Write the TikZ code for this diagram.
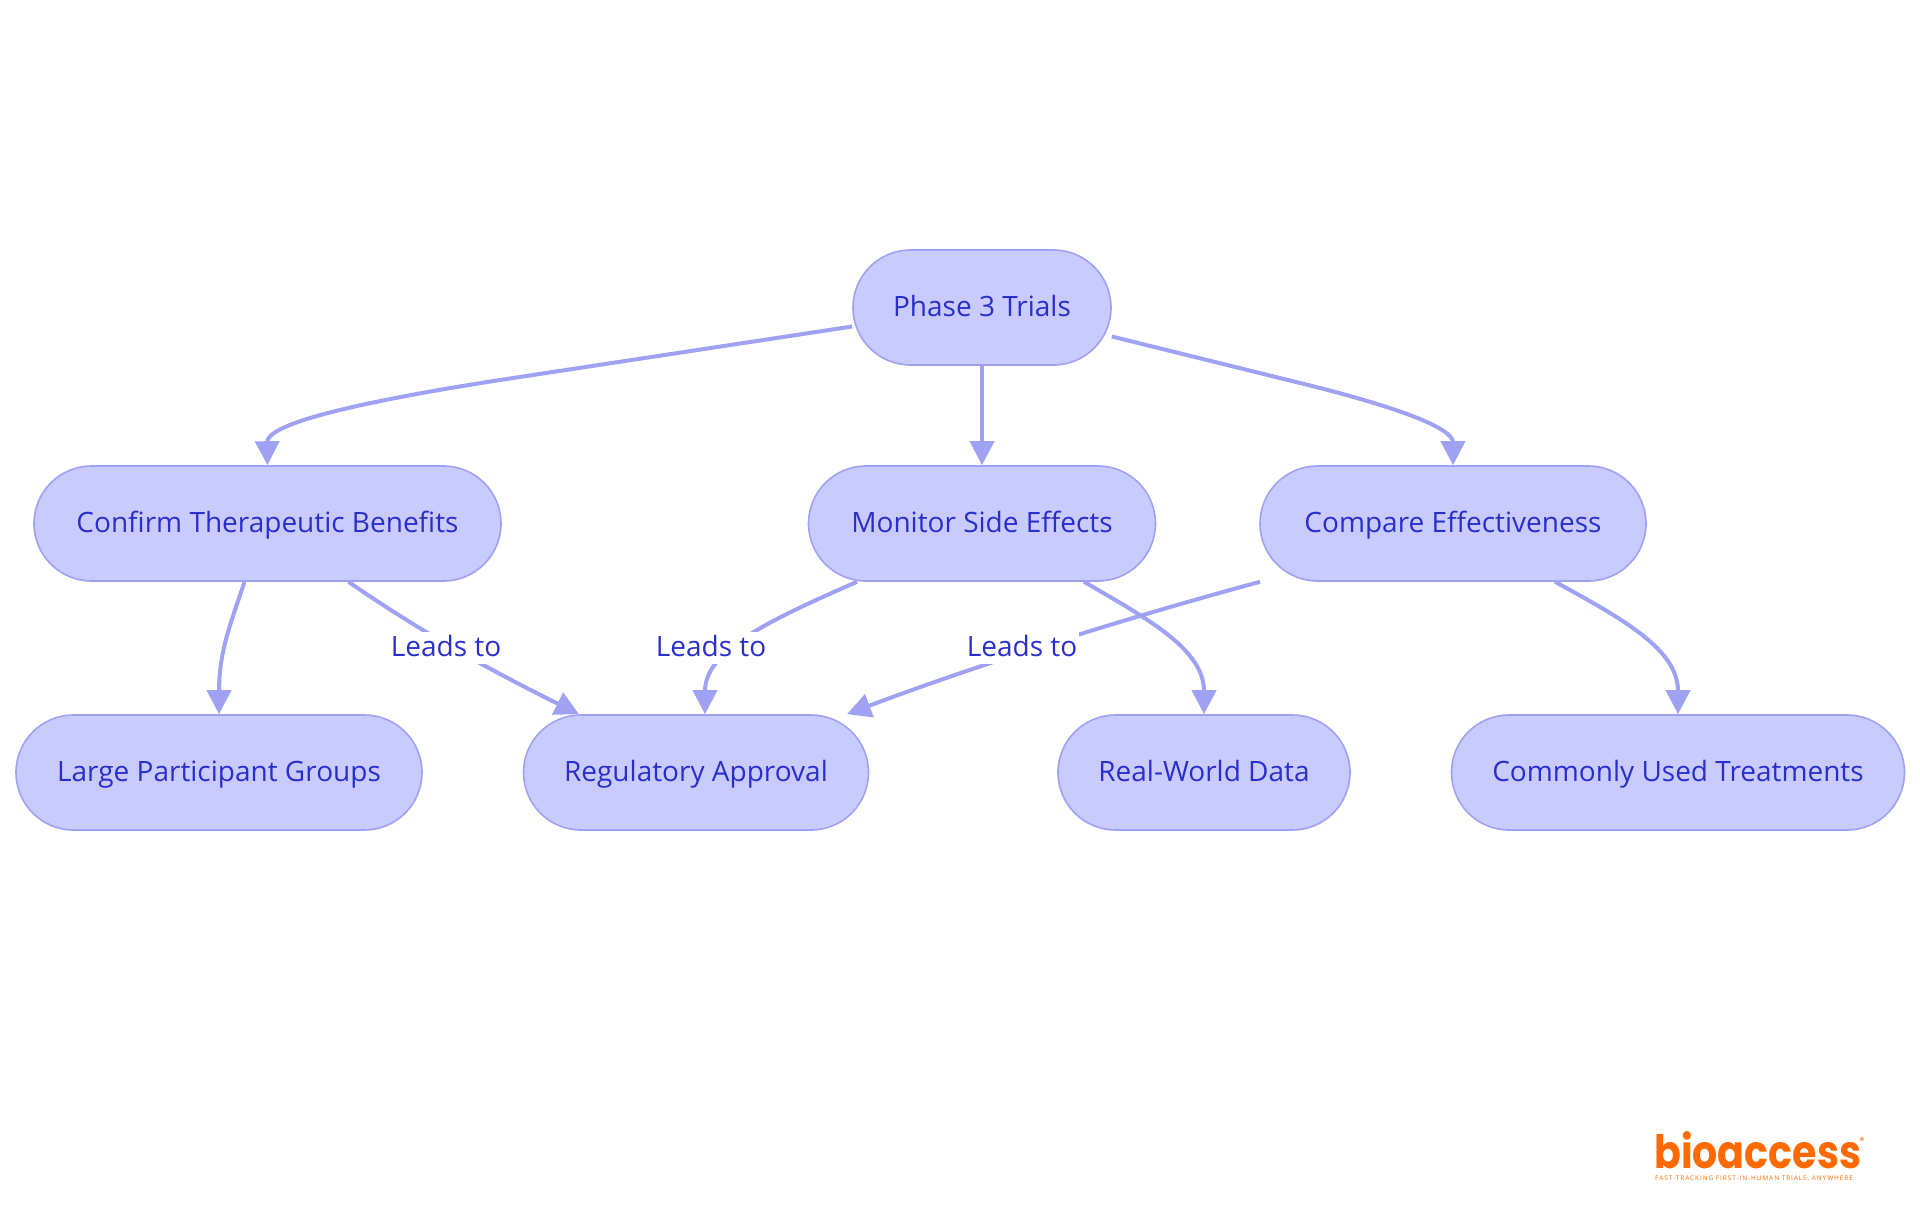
\documentclass[tikz,border=0pt]{standalone}
\usepackage{fontspec}
\setmainfont{Open Sans}
\newfontfamily\logofont{Poppins}
\newfontfamily\tagfont[LetterSpace=14]{Open Sans}
\usetikzlibrary{arrows.meta,calc}
\definecolor{edgeblue}{HTML}{9FA2F3}
\definecolor{fillblue}{HTML}{C9CBFF}
\definecolor{textblue}{HTML}{2A2FCB}
\definecolor{logoorange}{HTML}{FF6A00}
\newcommand{\lbl}[1]{\raisebox{0pt}[17pt][0pt]{#1}}
\tikzset{
  pill/.style={rectangle,rounded corners=57.5pt,draw=edgeblue,line width=1.6pt,fill=fillblue,
    text=textblue,font=\fontsize{28}{32}\selectfont,minimum height=115pt,inner sep=0pt,anchor=center},
  link/.style={draw=edgeblue,line width=4pt,-{Triangle[length=24pt,width=24pt]}},
  tag/.style={fill=white,text=textblue,font=\fontsize{28}{32}\selectfont,inner xsep=2pt,inner ysep=0pt,minimum height=32pt,anchor=center}
}
\begin{document}
\begin{tikzpicture}[x=1pt,y=-1pt]
\useasboundingbox (0,0) rectangle (1920,1215);
\node[pill,minimum width=258pt] (phase) at (982,307.5) {\lbl{Phase 3 Trials}};
\node[pill,minimum width=467pt] (confirm) at (267.5,523.5) {\lbl{Confirm Therapeutic Benefits}};
\node[pill,minimum width=347pt] (monitor) at (982,523.5) {\lbl{Monitor Side Effects}};
\node[pill,minimum width=386pt] (compare) at (1453,523.5) {\lbl{Compare Effectiveness}};
\node[pill,minimum width=406pt] (large) at (219,772.5) {\lbl{Large Participant Groups}};
\node[pill,minimum width=345pt] (reg) at (696,772.5) {\lbl{Regulatory Approval}};
\node[pill,minimum width=292pt] (real) at (1204,772.5) {\lbl{Real-World Data}};
\node[pill,minimum width=453pt] (common) at (1678,772.5) {\lbl{Commonly Used Treatments}};

\coordinate (phaseL) at ([yshift=-19pt]phase.west);
\coordinate (phaseR) at ([yshift=-29pt]phase.east);
\draw[link] (phaseL) -- (500,380) .. controls (320,408) and (267,428) .. (confirm.north);
\draw[link] (phase.south) -- (monitor.north);
\draw[link] (phaseR) -- (1300,383) .. controls (1410,410) and (1453,430) .. (compare.north);

\draw[link] ([xshift=-23pt]confirm.south) .. controls (232,620) and (219,650) .. (large.north);
\draw[link] ([xshift=81pt]confirm.south) .. controls (430,638) and (500,675) .. ([xshift=-117pt]reg.north);
\draw[link] ([xshift=-125pt]monitor.south) .. controls (770,620) and (705,650) .. ([xshift=9pt]reg.north);
\draw[link] ([xshift=102pt]monitor.south) .. controls (1150,620) and (1204,650) .. (real.north);
\draw[link] ([xshift=-193pt]compare.south) .. controls (1100,625) and (950,675) .. ([xshift=151pt]reg.north);
\draw[link] ([xshift=102pt]compare.south) .. controls (1625,620) and (1678,650) .. (common.north);

\node[tag] (t1) at (446,648) {\lbl{Leads to}};
\node[tag] (t2) at (711,648) {\lbl{Leads to}};
\node[tag] (t3) at (1022,648) {\lbl{Leads to}};

\node[text=logoorange,font=\logofont\bfseries\fontsize{46}{50}\selectfont,inner sep=0pt,anchor=base west,xscale=.86] (logo) at (1654,1168) {bioaccess};
\node[text=logoorange,font=\logofont\fontsize{10}{12}\selectfont,inner sep=0pt] (regmark) at (1862,1141) {®};
\node[text=logoorange,font=\tagfont\fontsize{6.5}{7}\selectfont,inner sep=0pt,anchor=base west] (tagline) at (1655,1180) {FAST-TRACKING FIRST-IN-HUMAN TRIALS, ANYWHERE};
\end{tikzpicture}
\end{document}
